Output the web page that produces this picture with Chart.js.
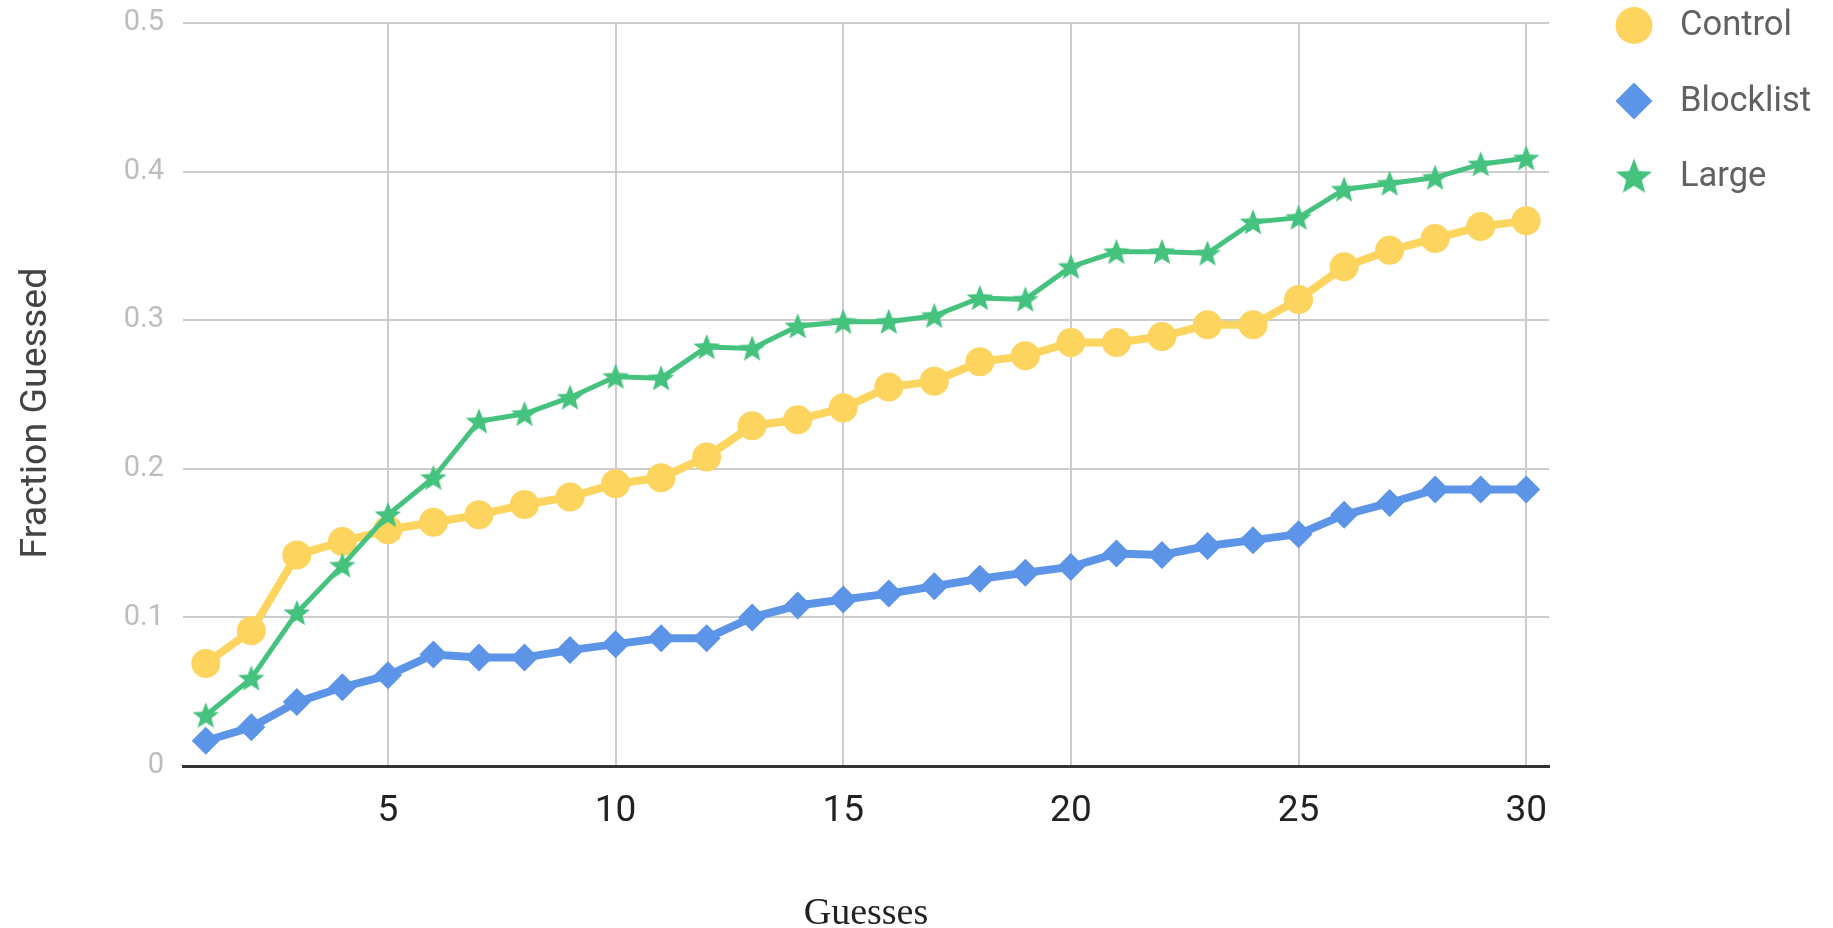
<!DOCTYPE html>
<html lang="en">
<head>
<meta charset="UTF-8">
<title>Fraction Guessed</title>
<style>
  html, body { margin: 0; padding: 0; background: #fff; }
</style>
</head>
<body>
<canvas id="guessChart" width="1833" height="928"></canvas>

<script src="https://cdn.jsdelivr.net/npm/chart.js"></script>
<script>
  const guesses = [1, 2, 3, 4, 5, 6, 7, 8, 9, 10, 11, 12, 13, 14, 15,
                   16, 17, 18, 19, 20, 21, 22, 23, 24, 25, 26, 27, 28, 29, 30];
  const control = [0.069, 0.091, 0.142, 0.151, 0.159, 0.164, 0.169, 0.176, 0.181, 0.190,
                   0.194, 0.208, 0.229, 0.233, 0.241, 0.255, 0.259, 0.272, 0.276, 0.285,
                   0.285, 0.289, 0.297, 0.297, 0.314, 0.336, 0.347, 0.355, 0.363, 0.367];
  const blocklist = [0.017, 0.026, 0.043, 0.053, 0.061, 0.075, 0.073, 0.073, 0.078, 0.082,
                     0.086, 0.086, 0.100, 0.108, 0.112, 0.116, 0.121, 0.126, 0.130, 0.134,
                     0.143, 0.142, 0.148, 0.152, 0.156, 0.169, 0.177, 0.186, 0.186, 0.186];
  const large = [0.034, 0.059, 0.103, 0.135, 0.169, 0.194, 0.232, 0.237, 0.248, 0.262,
                 0.261, 0.282, 0.281, 0.296, 0.299, 0.299, 0.303, 0.315, 0.314, 0.336,
                 0.346, 0.346, 0.345, 0.366, 0.369, 0.388, 0.392, 0.396, 0.405, 0.409];
  const seriesNames = ['Control', 'Blocklist', 'Large'];
  const xTicks = [5, 10, 15, 20, 25, 30];
  const yTicks = [0, 0.1, 0.2, 0.3, 0.4, 0.5];

  const yellow = '#fdd45e';
  const blue = '#5c94e8';
  const green = '#45c27e';

  // filled five point star, used as point image
  function makeStar(r, color) {
    const c = document.createElement('canvas');
    const size = Math.ceil(r * 2 + 2);
    c.width = c.height = size;
    const g = c.getContext('2d');
    g.fillStyle = color;
    g.beginPath();
    for (let i = 0; i < 10; i++) {
      const rr = i % 2 ? r * 0.43 : r;
      const a = -Math.PI / 2 + i * Math.PI / 5;
      g.lineTo(size / 2 + rr * Math.cos(a), size / 2 + 1 + rr * Math.sin(a));
    }
    g.closePath();
    g.fill();
    return c;
  }

  const toPoints = vals => guesses.map((g, i) => ({ x: g, y: vals[i] }));

  // legend on the right, top aligned like the original
  const sideLegend = {
    id: 'sideLegend',
    afterDraw(chart) {
      const ctx = chart.ctx;
      const markers = ['circle', 'diamond', makeStar(19, green)];
      const colors = [yellow, blue, green];
      ctx.save();
      ctx.font = '34.5px Roboto';
      ctx.textBaseline = 'middle';
      seriesNames.forEach((name, i) => {
        const cx = 1634, cy = 25.5 + i * 75.5;
        ctx.fillStyle = colors[i];
        ctx.beginPath();
        if (markers[i] === 'circle') {
          ctx.arc(cx, cy, 18.5, 0, Math.PI * 2);
          ctx.fill();
        } else if (markers[i] === 'diamond') {
          ctx.moveTo(cx - 18.5, cy);
          ctx.lineTo(cx, cy - 18.5);
          ctx.lineTo(cx + 18.5, cy);
          ctx.lineTo(cx, cy + 18.5);
          ctx.closePath();
          ctx.fill();
        } else {
          ctx.drawImage(markers[i], cx - markers[i].width / 2, cy - markers[i].height / 2);
        }
        ctx.fillStyle = '#616161';
        ctx.fillText(name, 1680, cy + 1);
      });
      ctx.restore();
    }
  };

  const ctx = document.getElementById('guessChart').getContext('2d');
  const guessChart = new Chart(ctx, {
    type: 'line',
    data: {
      datasets: [{
        label: seriesNames[0],
        data: toPoints(control),
        borderColor: yellow,
        backgroundColor: yellow,
        borderWidth: 8,
        pointStyle: 'circle',
        pointRadius: 14.5,
        pointBorderWidth: 0,
        order: 1
      }, {
        label: seriesNames[1],
        data: toPoints(blocklist),
        borderColor: blue,
        backgroundColor: blue,
        borderWidth: 8,
        pointStyle: 'rectRot',
        pointRadius: 14,
        pointBorderWidth: 0,
        order: 2
      }, {
        label: seriesNames[2],
        data: toPoints(large),
        borderColor: green,
        backgroundColor: green,
        borderWidth: 5,
        pointStyle: makeStar(14, green),
        pointRadius: 13,
        order: 0
      }]
    },
    options: {
      responsive: false,
      animation: false,
      layout: { padding: { top: 23, right: 284, left: 0, bottom: 0 } },
      plugins: {
        legend: { display: false },
        tooltip: { enabled: false }
      },
      scales: {
        x: {
          type: 'linear',
          min: 0.5,
          max: 30.5,
          afterBuildTicks: axis => { axis.ticks = xTicks.map(v => ({ value: v })); },
          afterFit: axis => { axis.height = 162; },
          grid: { color: '#cccccc', lineWidth: 2, drawTicks: false },
          border: { color: '#333333', width: 3 },
          ticks: { padding: 24, color: '#222222', font: { family: 'Roboto', size: 37 } },
          title: {
            display: true,
            text: 'Guesses',
            color: '#222222',
            font: { family: 'Liberation Serif', size: 38, lineHeight: 0.72 },
            padding: { top: 0, bottom: 0 }
          }
        },
        y: {
          min: 0,
          max: 0.5,
          afterBuildTicks: axis => { axis.ticks = yTicks.map(v => ({ value: v })); },
          afterFit: axis => {
            axis.width = 183;
            axis.paddingTop = 0;
            axis.paddingBottom = 0;
          },
          grid: {
            color: c => c.tick && c.tick.value === 0 ? 'rgba(0,0,0,0)' : '#cccccc',
            lineWidth: 2,
            drawTicks: false
          },
          border: { display: false },
          ticks: { padding: 19, color: '#bdbdbd', font: { family: 'Roboto', size: 29 } },
          title: {
            display: true,
            // trailing spaces push the rotated text a little below the middle, as in the original
            text: 'Fraction Guessed\u00a0\u00a0\u00a0\u00a0',
            color: '#444444',
            font: { family: 'Roboto', size: 37.5, lineHeight: 1 },
            padding: { top: 18, bottom: 0 }
          }
        }
      }
    },
    plugins: [sideLegend]
  });
</script>
</body>
</html>
